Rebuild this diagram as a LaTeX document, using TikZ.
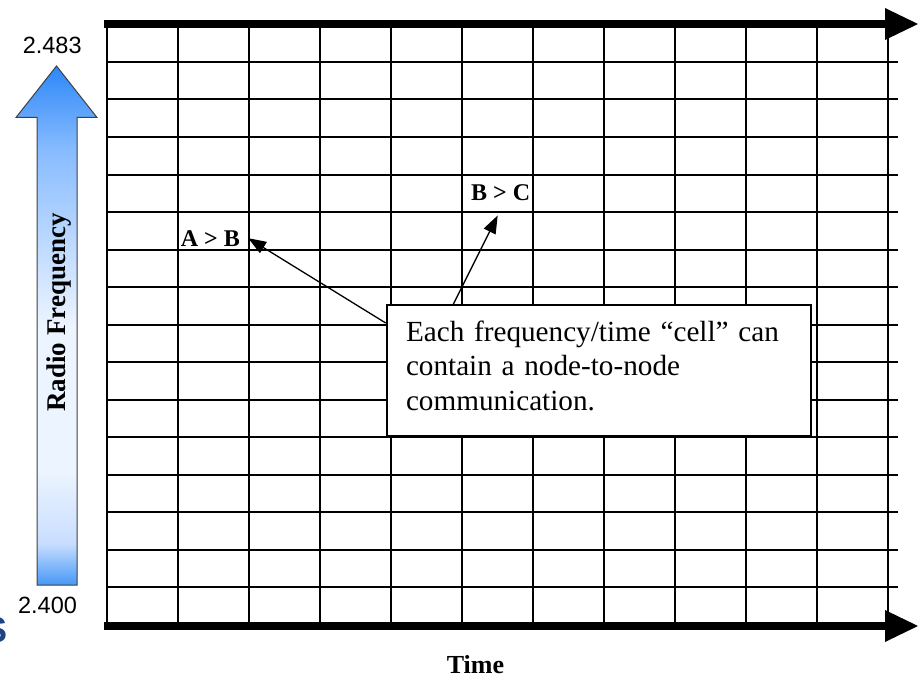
\documentclass[tikz,border=0pt]{standalone}
\usepackage{fontspec}
\setmainfont{Liberation Serif}
\newfontfamily\sansnum{Liberation Sans}
\usetikzlibrary{arrows.meta}

% colours of the frequency arrow
\definecolor{rftop}{RGB}{45,135,248}
\definecolor{rfmid}{RGB}{135,187,255}
\definecolor{rfpale}{RGB}{236,244,255}
\definecolor{rflow}{RGB}{200,222,255}
\definecolor{rfbot}{RGB}{70,152,246}
\definecolor{rfedge}{RGB}{64,64,64}
\definecolor{navyink}{RGB}{28,69,135}

% vertical blend for the frequency arrow (25bp = bottom, 75bp = top)
\pgfdeclareverticalshading{rfshade}{100bp}{%
  color(0bp)=(rfbot); color(25bp)=(rfbot); color(29bp)=(rflow);
  color(36bp)=(rfpale); color(50bp)=(rfpale); color(67bp)=(rfmid);
  color(75bp)=(rftop); color(100bp)=(rftop)}

\begin{document}
\begin{tikzpicture}[x=1pt,y=-1pt,
  gridline/.style={line width=2pt, black},
  axisbar/.style={line width=7.5pt, black},
  callout/.style={draw, fill=white, line width=2pt, anchor=north west,
    text width=385.7pt, inner xsep=19.3pt, inner ysep=15.3pt, text depth=79.7pt,
    align=left, font=\fontsize{29.2}{34.5}\selectfont},
  pointer/.style={line width=1.3pt, -{Triangle[length=18pt,width=13pt]}},
  pairlabel/.style={font=\fontsize{24}{28}\selectfont\bfseries, inner sep=8pt, anchor=base west},
  freqlabel/.style={font=\sansnum\fontsize{23.5}{28}\selectfont, inner sep=0pt, anchor=base}]
\useasboundingbox (0,0) rectangle (922,677);

% frequency/time grid
\foreach \k in {1,...,15}
  \draw[gridline] (106.5,{62+37.5*(\k-1)}) -- (898,{62+37.5*(\k-1)});
\foreach \k in {0,...,11}
  \draw[gridline] ({106.5+71.07*\k},24) -- ({106.5+71.07*\k},626);

% time axes along top and bottom
\draw[axisbar] (104,24) -- (886,24);
\fill (885,8) -- (918,24) -- (885,40) -- cycle;
\draw[axisbar] (104,626) -- (886,626);
\fill (885,610) -- (918,626) -- (885,642) -- cycle;

% radio frequency arrow
\draw[draw=rfedge, line width=1pt, shading=rfshade]
  (56.5,66) -- (97,117.5) -- (77,117.5) -- (77,585) -- (37,585)
  -- (37,117.5) -- (16,117.5) -- cycle;
\node[font=\fontsize{27}{32}\selectfont\bfseries, rotate=90, anchor=base] (rf) at (65,312.5) {Radio Frequency};
\node[freqlabel] (fhi) at (52.2,53.3) {2.483};
\node[freqlabel] (flo) at (47.5,613.3) {2.400};

% partial letter at the lower left edge
\node[font=\sansnum\bfseries\fontsize{36}{40}\selectfont, text=navyink, inner sep=0pt, anchor=base east] (edge) at (8,642) {S};

% time label
\node[font=\fontsize{26}{30}\selectfont\bfseries, inner sep=0pt, anchor=base] (time) at (475.5,673) {Time};

% example transmissions
\node[pairlabel] (ab) at (172.7,246) {A > B};
\node[pairlabel, inner ysep=15pt] (bc) at (463,200) {B > C};

% explanation box and its pointers
\node[callout] (box) at (385.7,304.3) {Each frequency/time “cell” can\\contain a node-to-node\\communication.};
\draw[pointer] ([yshift=-18.7pt]box.north west) -- (ab.east);
\draw[pointer] ([xshift=67.6pt]box.north west) -- ([xshift=-3pt]bc.south);
\end{tikzpicture}
\end{document}
